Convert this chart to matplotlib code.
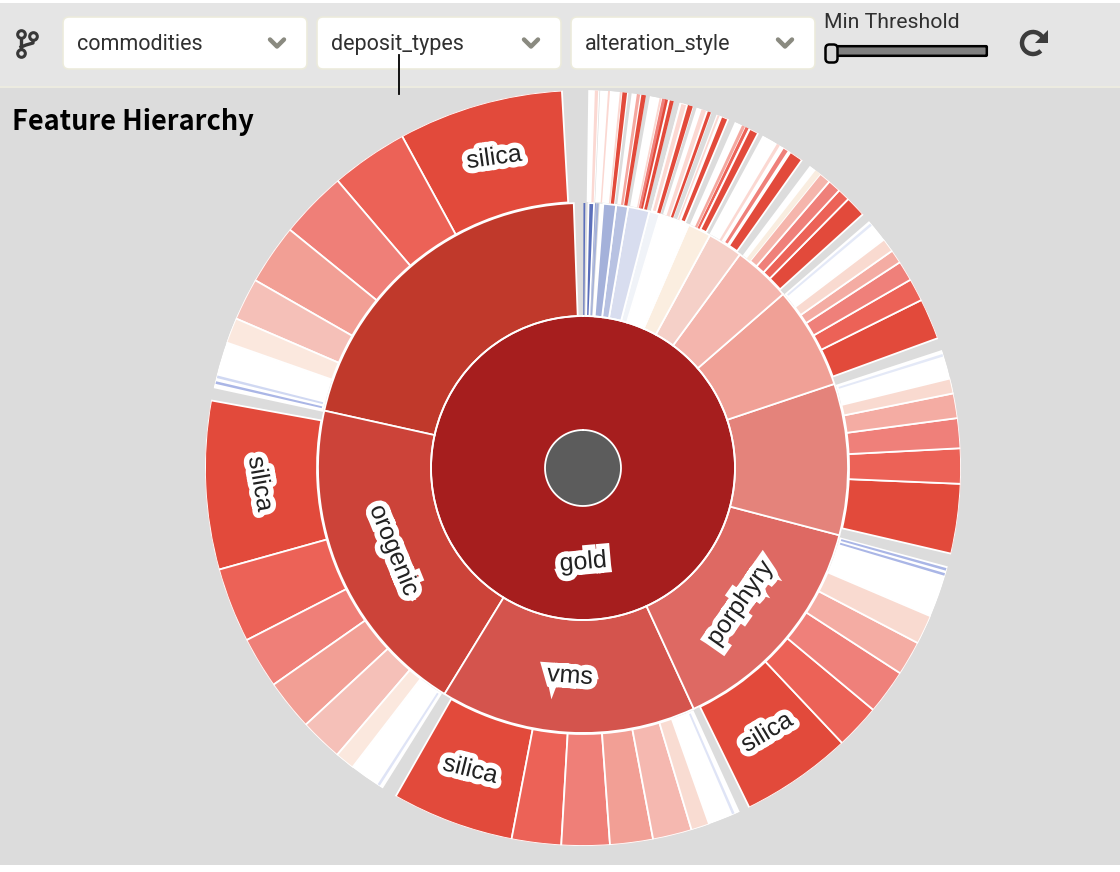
#!/usr/bin/env python3
import numpy as np
import matplotlib
matplotlib.use("Agg")
import matplotlib.pyplot as plt
from matplotlib.patches import FancyBboxPatch, Rectangle, Arc, Polygon
import matplotlib.patheffects as pe

# Angles are degrees clockwise from the top of the sunburst
ROOT_COLOR = "#5c5c5c"
GOLD_COLOR = "#a61e1e"

# deposit types ring
ring2_start = [282.5, 211.5, 155.3, 104.7, 71.5, 49.0, 36.3, 28.6, 23.5, 16.8, 14.5, 9.8, 7.2, 4.4,
               3.6, 2.9, 2.4, 1.2, 0.1]
ring2_end = [358.0, 282.5, 211.5, 155.3, 104.7, 71.5, 49.0, 36.3, 28.6, 23.5, 16.8, 14.5, 9.8, 7.2,
             4.4, 3.4, 2.8, 2.4, 0.5]
ring2_color = ["#c0392b", "#cc4339", "#d4544d", "#de6963", "#e4837b", "#f0a096", "#f4b5ad", "#f5d0c8",
               "#fbeee0", "#ffffff", "#f0f3f8", "#d8ddef", "#b8c2e2", "#a4b1da",
               "#ffffff", "#a4b1da", "#8c9cd2", "#5b6fbb", "#5b6fbb"]

# alteration style ring: white spans are the backing of each parent
ring3_white_start = [0.8, 2.6, 7.4, 10.2, 14.8, 17.5, 20.7, 23.7, 28.4, 36.9, 49.2, 71.8, 105.1, 155.5, 212.0, 282.2]
ring3_white_end = [2.5, 6.9, 9.6, 13.9, 17.0, 19.9, 22.6, 27.6, 35.4, 47.8, 69.9, 103.1, 153.9, 209.7, 280.3, 356.8]

ring3_start = [331.4, 319.5, 309.1, 299.8, 293.3, 289.4,
               254.4, 242.9, 235.0, 227.2, 220.6, 217.6,
               190.9, 183.3, 175.9, 169.3, 163.3, 160.5,
               136.7, 129.8, 122.9, 117.6, 113.1,
               92.4, 87.0, 82.4, 78.6, 76.3,
               63.6, 60.1, 57.0, 54.9, 52.8,
               44.6, 42.7, 40.7, 38.9, 38.0,
               33.3, 32.0, 30.9, 25.5, 26.2, 24.9,
               21.5, 20.9, 19.3, 18.3, 16.0, 15.0,
               13.3, 12.5, 12.1, 11.7, 8.9, 8.2, 6.0, 5.6, 3.8, 1.8]
ring3_end = [356.8, 331.4, 319.5, 309.1, 299.8, 293.3,
             280.3, 254.4, 242.9, 235.0, 227.2, 220.6,
             209.7, 190.9, 183.3, 175.9, 169.3, 163.3,
             153.9, 136.7, 129.8, 122.9, 117.6,
             103.1, 92.4, 87.0, 82.4, 78.6,
             69.9, 63.6, 60.1, 57.0, 54.9,
             47.8, 44.6, 42.7, 40.7, 38.9,
             35.4, 33.0, 31.4, 26.0, 27.6, 25.4,
             22.6, 21.2, 19.8, 19.0, 16.9, 16.0,
             13.9, 13.0, 12.6, 12.0, 9.6, 8.7, 6.7, 5.9, 4.1, 2.3]
ring3_color = ["#e24a3b", "#ec6257", "#ef7f78", "#f29f95", "#f5c0b8", "#fbe8de",
               "#e24a3b", "#ec6257", "#ef7f78", "#f29f95", "#f5c0b8", "#fbe8de",
               "#e24a3b", "#ec6257", "#ef7f78", "#f29f95", "#f5b8b0", "#f9dcd2",
               "#e24a3b", "#ec6257", "#ef807a", "#f4aca3", "#f9dad0",
               "#e24a3b", "#ec6257", "#ef807a", "#f4aca3", "#f9dad0",
               "#e24a3b", "#ec6257", "#ef807a", "#f4aca3", "#f9dad0",
               "#e24a3b", "#ec6257", "#ef807a", "#f5b5ac", "#f9ede0",
               "#e24a3b", "#ef807a", "#fbd8d2", "#ec6257", "#e24a3b", "#f5a8a0",
               "#e24a3b", "#fbd8d2", "#e24a3b", "#fbd8d2", "#e24a3b", "#fbd8d2",
               "#e24a3b", "#e24a3b", "#ef807a", "#fbd8d2", "#e24a3b", "#f5a8a0", "#e24a3b", "#fbd8d2", "#fbd8d2", "#fbd8d2"]

# faint blue stripes in the white spans
stripe_start = [282.9, 283.8, 212.6, 156.3, 105.4, 106.2, 72.4, 49.6]
stripe_end = [283.3, 284.2, 213.0, 156.7, 105.8, 106.6, 72.8, 50.0]
stripe_color = ["#aab6e6", "#d0d8f2", "#dfe4f6", "#dfe4f6", "#aab6e6", "#aab6e6", "#e4e9f7", "#e4e9f7"]

labels = ["gold", "orogenic", "vms", "porphyry", "silica", "silica", "silica", "silica"]
label_angle = [180.0, 246.5, 183.6, 130.7, 344.0, 267.2, 200.5, 145.2]
label_radius = [94, 206, 208, 207, 323, 323, 322, 322]
label_rotation = [5, -68, -4, 55, 8, -80, -14, 31]
label_join = ["miter", "miter", "miter", "miter", "round", "round", "round", "round"]

dropdowns = ["commodities", "deposit_types", "alteration_style"]

fig = plt.figure(figsize=(11.2, 8.72), dpi=100, facecolor="white")

# page and toolbar, in pixels
bg = fig.add_axes([0, 0, 1, 1])
bg.set_xlim(0, 1120)
bg.set_ylim(872, 0)
bg.axis("off")
bg.add_patch(Rectangle((0, 3), 1120, 83, fc="#e5e5e5", ec="none"))
bg.add_patch(Rectangle((0, 86), 1120, 2, fc="#ecebe0", ec="none"))
bg.add_patch(Rectangle((0, 88), 1120, 777, fc="#dcdcdc", ec="none"))

for i, name in enumerate(dropdowns):
    x0 = 63 + i * 254
    bg.add_patch(FancyBboxPatch((x0 + 6, 23), 232, 40, boxstyle="round,pad=6", fc="white", ec="#ecebdc", lw=1.2))
    bg.text(x0 + 14, 44.5, name, fontsize=15.5, family="Roboto", color="#303030", va="center")
    bg.plot([x0 + 207, x0 + 214, x0 + 221], [39.5, 46.5, 39.5], color="#8a8a80", lw=3.2, solid_capstyle="round")

bg.plot([399, 399], [55, 94], color="black", lw=1.3)
bg.text(12, 122, "Feature Hierarchy", fontsize=19.5, family="Noto Sans CJK SC", weight="bold", color="black", va="center")
bg.text(824, 22, "Min Threshold", fontsize=15.3, family="Roboto", color="#303030", va="center")

# slider
bg.add_patch(FancyBboxPatch((827, 47), 159, 8, boxstyle="round,pad=0.8", fc="#808080", ec="black", lw=1.8))
bg.add_patch(FancyBboxPatch((827, 46), 9, 15, boxstyle="round,pad=1.5,rounding_size=4", fc="#d8d8d8", ec="black", lw=1.8))

# branch icon
bg.plot([21, 21], [35, 52], color="#383838", lw=2.4)
bg.plot([21, 26, 33, 33], [47, 45, 43, 36], color="#383838", lw=2.4)
bg.plot([21, 33, 21], [34, 36, 53], "o", mfc="#e5e5e5", mec="#383838", ms=5.5, mew=2.2)

# refresh icon
bg.add_patch(Arc((1033, 43), 22, 22, theta1=45, theta2=335, color="#3c3c3c", lw=3.2))
bg.add_patch(Polygon([[1048, 30], [1048, 43], [1035, 43]], fc="#3c3c3c", ec="none"))

# sunburst: centre (583, 468) outer radius 378 px
cx, cy, R = 583, 468, 378
ax = fig.add_axes([(cx - R) / 1120, 1 - (cy + R) / 872, 2 * R / 1120, 2 * R / 872], projection="polar")
ax.set_theta_zero_location("N")
ax.set_theta_direction(-1)
ax.set_ylim(0, R)
ax.axis("off")
ax.patch.set_alpha(0)


def ring(start, end, color, inner, outer, lw=1.3, min_width=1.0):
    start = np.array(start)
    end = np.array(end)
    width = end - start
    for s, w, c in zip(start, width, color):
        edge = "white" if (w >= min_width and lw > 0) else "none"
        ax.bar(np.deg2rad(s + w / 2), outer - inner, width=np.deg2rad(w), bottom=inner,
               color=c, edgecolor=edge, linewidth=lw if w >= min_width else 0)


theta = np.linspace(0, 2 * np.pi, 400)
ax.bar(0, 114, width=2 * np.pi, bottom=38, color=GOLD_COLOR, edgecolor="none", linewidth=0)
ax.bar(0, 38, width=2 * np.pi, bottom=0, color=ROOT_COLOR, edgecolor="none", linewidth=0)
ax.plot(theta, np.full(400, 38), color="white", lw=1.3)
ax.plot(theta, np.full(400, 152), color="white", lw=1.3)
ring(ring2_start, ring2_end, ring2_color, 152, 265)
ring(ring3_white_start, ring3_white_end, ["#ffffff"] * len(ring3_white_start), 266, 378, lw=0)
ring(stripe_start, stripe_end, stripe_color, 268, 377)
ring(ring3_start, ring3_end, ring3_color, 266, 378)
ax.set_ylim(0, R)

for name, a, r, rot, join in zip(labels, label_angle, label_radius, label_rotation, label_join):
    halo = [pe.withStroke(linewidth=8, foreground="white", joinstyle=join)]
    ax.text(np.deg2rad(a), r, name, fontsize=18, family="Liberation Sans", color="#222222",
            rotation=rot, rotation_mode="anchor", ha="center", va="center", path_effects=halo, zorder=10)

fig.savefig("out.png", dpi=100, facecolor=fig.get_facecolor())
